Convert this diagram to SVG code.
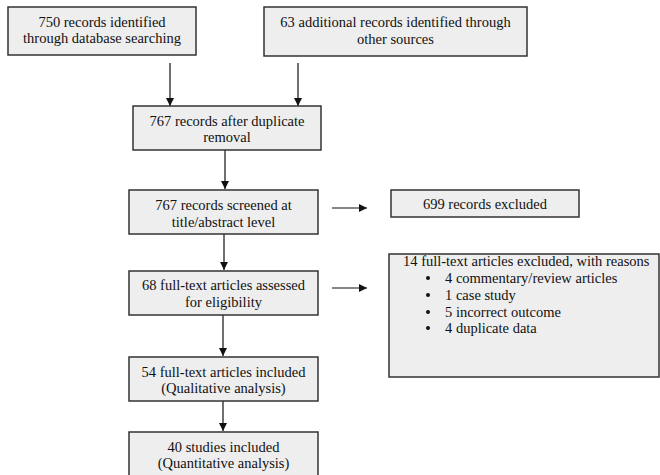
<svg xmlns="http://www.w3.org/2000/svg" width="660" height="475" viewBox="0 0 660 475">
<defs>
<style>
.box{fill:#eeeeee;stroke:#333333;stroke-width:1.5}
.t{font-family:"Liberation Serif","Times New Roman",serif;font-size:14.5px;fill:#111111}
.c{text-anchor:middle}
.edge{stroke:#111111;stroke-width:1.2;fill:none;marker-end:url(#ah)}
</style>
<marker id="ah" markerUnits="userSpaceOnUse" markerWidth="10" markerHeight="10" refX="8" refY="4" orient="auto">
<path d="M0,0 L8,4 L0,8 Z" fill="#111111"/>
</marker>
</defs>
<rect width="660" height="475" fill="#ffffff"/>
<g id="connectors">
<line class="edge" x1="170" y1="63" x2="170" y2="106"/>
<line class="edge" x1="298" y1="63" x2="298" y2="106"/>
<line class="edge" x1="225" y1="150" x2="225" y2="189"/>
<line class="edge" x1="224" y1="234" x2="224" y2="270"/>
<line class="edge" x1="223" y1="315" x2="223" y2="356"/>
<line class="edge" x1="223" y1="401" x2="223" y2="431"/>
<line class="edge" x1="332" y1="208" x2="367" y2="208"/>
<line class="edge" x1="332" y1="288" x2="367" y2="288"/>
</g>
<g id="n1">
<rect class="box" x="8" y="7" width="188" height="48"/>
<text class="t c" x="102" y="27">750 records identified</text>
<text class="t c" x="102" y="43">through database searching</text>
</g>
<g id="n2">
<rect class="box" x="264" y="7" width="263" height="49"/>
<text class="t c" x="395.5" y="27">63 additional records identified through</text>
<text class="t c" x="395.5" y="44">other sources</text>
</g>
<g id="n3">
<rect class="box" x="133" y="106" width="188" height="44"/>
<text class="t c" x="227" y="125.5">767 records after duplicate</text>
<text class="t c" x="227" y="142">removal</text>
</g>
<g id="n4">
<rect class="box" x="129" y="190" width="189" height="44"/>
<text class="t c" x="223.5" y="210">767 records screened at</text>
<text class="t c" x="223.5" y="226.5">title/abstract level</text>
</g>
<g id="n5">
<rect class="box" x="391" y="190" width="188" height="27"/>
<text class="t c" x="485" y="209">699 records excluded</text>
</g>
<g id="n6">
<rect class="box" x="129" y="271" width="189" height="44"/>
<text class="t c" x="223.5" y="290">68 full-text articles assessed</text>
<text class="t c" x="223.5" y="306.5">for eligibility</text>
</g>
<g id="n7">
<rect class="box" x="389" y="254" width="270" height="123"/>
<text class="t" x="403" y="266">14 full-text articles excluded, with reasons</text>
<circle cx="428" cy="278" r="2" fill="#111111"/>
<text class="t" x="445" y="282.5">4 commentary/review articles</text>
<circle cx="428" cy="295" r="2" fill="#111111"/>
<text class="t" x="445" y="299.5">1 case study</text>
<circle cx="428" cy="312" r="2" fill="#111111"/>
<text class="t" x="445" y="316.5">5 incorrect outcome</text>
<circle cx="428" cy="328" r="2" fill="#111111"/>
<text class="t" x="445" y="333">4 duplicate data</text>
</g>
<g id="n8">
<rect class="box" x="129" y="357" width="189" height="44"/>
<text class="t c" x="223.5" y="376.5">54 full-text articles included</text>
<text class="t c" x="223.5" y="393">(Qualitative analysis)</text>
</g>
<g id="n9">
<rect class="box" x="129" y="432" width="189" height="46"/>
<text class="t c" x="223.5" y="451.5">40 studies included</text>
<text class="t c" x="223.5" y="468">(Quantitative analysis)</text>
</g>
</svg>
